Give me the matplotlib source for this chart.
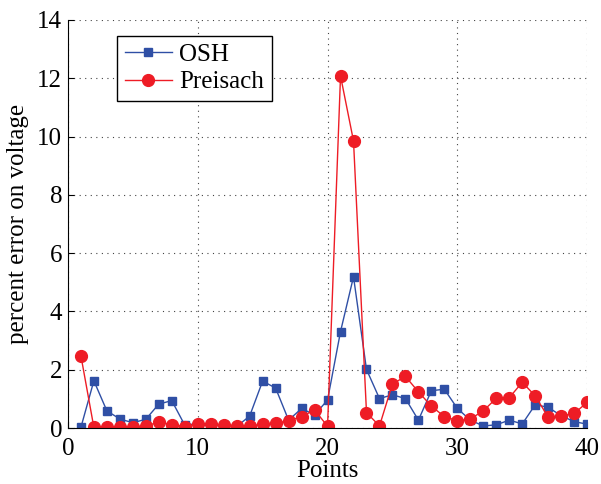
#Erro percentual na tensao: OSH x Preisach
from matplotlib import pyplot as plt

#dados
pontos = list(range(1, 41))
osh = [0.02, 1.62, 0.59, 0.31, 0.18, 0.30, 0.82, 0.94, 0.10, 0.15,
       0.13, 0.10, 0.05, 0.41, 1.61, 1.37, 0.27, 0.67, 0.45, 0.96,
       3.31, 5.19, 2.01, 1.01, 1.14, 1.01, 0.27, 1.28, 1.33, 0.67,
       0.27, 0.07, 0.11, 0.27, 0.14, 0.80, 0.71, 0.42, 0.22, 0.13]
preisach = [2.48, 0.02, 0.02, 0.03, 0.03, 0.07, 0.20, 0.12, 0.05, 0.14,
            0.13, 0.10, 0.08, 0.06, 0.14, 0.16, 0.25, 0.39, 0.62, 0.06,
            12.08, 9.85, 0.53, 0.07, 1.51, 1.77, 1.24, 0.75, 0.39, 0.25,
            0.31, 0.59, 1.02, 1.04, 1.57, 1.10, 0.37, 0.41, 0.50, 0.88]

plt.rcParams['font.family'] = 'Liberation Serif'
plt.rcParams['font.size'] = 18

fig = plt.figure(figsize=(6.01, 4.84), dpi=100)
ax = fig.add_axes([0.113, 0.1157, 0.864, 0.843])

ax.plot(pontos, osh, '-s', color='#2F4FA5', lw=1, markersize=6, label='OSH')
ax.plot(pontos, preisach, '-o', color='#EE1C25', lw=1, markersize=8.5, label='Preisach')

ax.set_xlim(0, 40)
ax.set_ylim(0, 14)
ax.set_xticks([0, 10, 20, 30, 40])
ax.set_yticks(range(0, 15, 2))
ax.grid(True, linestyle=(0, (1, 4)), color='#444444', lw=0.8)
ax.spines['top'].set_visible(False)
ax.spines['right'].set_visible(False)
ax.tick_params(direction='in', length=4, labelsize=18, pad=4)
ax.tick_params(axis='x', pad=7)
ax.set_xlabel('Points', fontsize=18, labelpad=0)
ax.set_ylabel('percent error on voltage', fontsize=18, labelpad=6)

leg = ax.legend(loc='upper left', bbox_to_anchor=(117/601, 1 - 36/484),
                bbox_transform=fig.transFigure, fancybox=False,
                edgecolor='black', framealpha=1, fontsize=18,
                handlelength=1.9, handletextpad=0.3, borderpad=0.3,
                labelspacing=0.2, borderaxespad=0)
leg.get_frame().set_linewidth(1)

fig.savefig('out.png', dpi=100)
